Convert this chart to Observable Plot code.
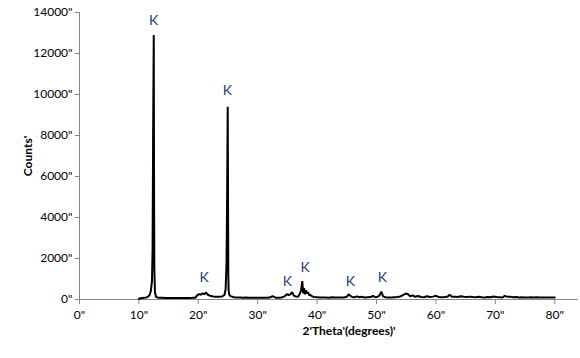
<!DOCTYPE html>
<html>
<head>
<meta charset="utf-8">
<script src="https://cdn.jsdelivr.net/npm/d3@7"></script>
<script src="https://cdn.jsdelivr.net/npm/@observablehq/plot@0.6"></script>
<style>
  html, body { margin: 0; padding: 0; background: #fff; }
  #chart { width: 580px; height: 358px; }
</style>
</head>
<body>
<div id="chart"></div>
<script>
const theta = [
  10, 10.3, 10.6, 10.9, 11.2, 11.5, 11.8, 12.0, 12.2, 12.3,
  12.4, 12.5, 12.55, 12.6, 12.7, 12.9, 13.2, 13.6, 14.0, 14.5,
  15, 15.5, 16, 16.5, 17, 17.5, 18, 18.5, 19, 19.5,
  19.8, 20.1, 20.4, 20.7, 21.0, 21.3, 21.6, 22.0, 22.5, 23.0,
  23.5, 24.0, 24.4, 24.6, 24.75, 24.85, 24.95, 25.0, 25.05, 25.1,
  25.2, 25.4, 25.7, 26.0, 26.5, 27, 27.5, 28, 28.5, 29,
  29.5, 30, 30.5, 31, 31.5, 32, 32.5, 33, 33.5, 34,
  34.5, 34.9, 35.2, 35.5, 35.8, 36.1, 36.4, 36.8, 37.1, 37.3,
  37.5, 37.65, 37.8, 37.95, 38.1, 38.3, 38.5, 38.7, 38.9, 39.2,
  39.5, 40, 40.5, 41, 41.5, 42, 42.5, 43, 43.5, 44,
  44.5, 45, 45.3, 45.6, 45.9, 46.3, 46.7, 47.1, 47.5, 48,
  48.5, 49, 49.4, 49.8, 50.2, 50.5, 50.8, 51.1, 51.5, 52,
  52.5, 53, 53.5, 54, 54.5, 54.9, 55.3, 55.7, 56.1, 56.5,
  57, 57.5, 58, 58.5, 59, 59.5, 60, 60.5, 61, 61.5,
  62, 62.3, 62.7, 63.2, 63.7, 64.2, 64.7, 65.2, 65.7, 66.2,
  66.7, 67.2, 67.7, 68.2, 68.7, 69.2, 69.7, 70.2, 70.7, 71.2,
  71.6, 72, 72.5, 73, 73.5, 74, 74.5, 75, 75.5, 76,
  76.5, 77, 77.5, 78, 78.5, 79, 79.5, 80
];
const counts = [
  40, 60, 70, 80, 100, 130, 220, 400, 900, 2400,
  8400, 12900, 5300, 1500, 350, 120, 90, 80, 80, 75,
  75, 70, 75, 70, 70, 75, 70, 75, 80, 90,
  200, 260, 230, 300, 260, 340, 230, 180, 150, 140,
  130, 150, 220, 500, 1800, 5000, 9400, 5400, 1200, 450,
  250, 160, 140, 110, 100, 100, 90, 95, 90, 90,
  90, 85, 90, 90, 85, 95, 160, 90, 90, 100,
  150, 260, 220, 250, 360, 180, 150, 140, 280, 450,
  900, 300, 550, 250, 450, 300, 350, 200, 220, 150,
  120, 110, 100, 95, 100, 90, 110, 100, 95, 100,
  100, 130, 250, 180, 120, 110, 150, 110, 130, 100,
  110, 120, 180, 110, 130, 200, 380, 150, 110, 100,
  100, 110, 120, 150, 220, 290, 260, 150, 200, 130,
  170, 120, 110, 160, 120, 140, 180, 120, 110, 120,
  150, 230, 130, 140, 120, 160, 130, 120, 140, 120,
  110, 130, 110, 100, 120, 110, 150, 120, 110, 100,
  180, 130, 140, 110, 120, 100, 110, 100, 100, 110,
  100, 105, 100, 100, 95, 100, 100, 95
];

// peak annotations
const kLabels = ["K", "K", "K", "K", "K", "K", "K"];
const kTheta  = [12.5, 24.9, 21.0, 35.0, 38.0, 45.6, 51.0];
const kCounts = [13600, 10200, 1070, 880, 1560, 880, 1070];

// axis ticks
const xTicks = [0, 10, 20, 30, 40, 50, 60, 70, 80];
const yTicks = [0, 2000, 4000, 6000, 8000, 10000, 12000, 14000];

const xTitle = "2'Theta'(degrees)'";
const yTitle = "Counts'";

const data = theta.map((t, i) => ({t, c: counts[i]}));
const kData = kLabels.map((k, i) => ({k, t: kTheta[i], c: kCounts[i]}));

const axisColor = "#868686";
const fmt = d => d + '"';

const chart = Plot.plot({
  width: 580,
  height: 358,
  marginLeft: 79,
  marginRight: 2,
  marginTop: 12,
  marginBottom: 59,
  style: {fontFamily: "Lato, 'Open Sans', sans-serif", fontSize: "12px", background: "#fff", color: "#000"},
  x: {domain: [0, 84]},
  y: {domain: [0, 14000]},
  marks: [
    Plot.axisY({ticks: yTicks, tickSize: 4, tickPadding: 3, tickFormat: fmt, label: null, stroke: axisColor, fill: "#000"}),
    Plot.axisX({ticks: xTicks, tickSize: 5, tickPadding: 6, tickFormat: fmt, label: null, stroke: axisColor, fill: "#000"}),
    Plot.ruleX([0], {stroke: axisColor}),
    Plot.ruleY([0], {stroke: axisColor}),
    Plot.line(data, {x: "t", y: "c", stroke: "#000", strokeWidth: 2, strokeLinejoin: "miter"}),
    Plot.text(kData, {x: "t", y: "c", text: "k", fill: "#1F3F77", fontSize: 14, lineAnchor: "middle"})
  ]
});

const svg = d3.select(chart);
svg.append("text")
  .attr("transform", "translate(27,156) rotate(-90)")
  .attr("text-anchor", "middle")
  .attr("dominant-baseline", "central")
  .attr("font-weight", "bold")
  .attr("font-size", "12px")
  .attr("fill", "#000")
  .text(yTitle);
svg.append("text")
  .attr("x", 349)
  .attr("y", 330)
  .attr("text-anchor", "middle")
  .attr("dominant-baseline", "central")
  .attr("font-weight", "bold")
  .attr("font-size", "12px")
  .attr("fill", "#000")
  .text(xTitle);

document.getElementById("chart").appendChild(chart);
</script>
</body>
</html>
